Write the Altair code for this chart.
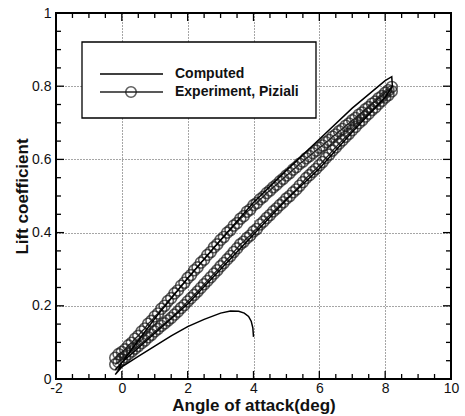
import altair as alt
import pandas as pd

# ---------------- data ----------------
comp_alpha = [4.0, 3.98, 3.93, 3.85, 3.72, 3.55, 3.3, 3.0, 2.5, 2.0, 1.5, 1.0, 0.5, 0.0, -0.2,
              -0.1, 0.0, 0.5, 1.0, 2.0, 3.0, 4.0, 5.0, 6.0, 7.0, 8.0, 8.2,
              8.22, 8.0, 7.0, 6.0, 5.0, 4.0, 3.0, 2.0, 1.0, 0.0, -0.2]
comp_cl = [0.115, 0.14, 0.158, 0.171, 0.18, 0.185, 0.186, 0.18, 0.163, 0.143, 0.118, 0.09, 0.062, 0.033, 0.012,
           0.025, 0.045, 0.105, 0.165, 0.275, 0.38, 0.482, 0.57, 0.655, 0.74, 0.815, 0.826,
           0.80, 0.77, 0.675, 0.575, 0.49, 0.395, 0.30, 0.205, 0.125, 0.045, 0.025]

exp_up_alpha = [-0.2, -0.1, 0.0, 0.1, 0.2, 0.3, 0.4, 0.5, 0.6, 0.7, 0.8, 0.9, 1.0, 1.1, 1.2, 1.3, 1.4,
                1.5, 1.6, 1.7, 1.8, 1.9, 2.0, 2.1, 2.2, 2.3, 2.4, 2.5, 2.6, 2.7, 2.8, 2.9, 3.0, 3.1,
                3.2, 3.3, 3.4, 3.5, 3.6, 3.7, 3.8, 3.9, 4.0, 4.1, 4.2, 4.3, 4.4, 4.5, 4.6, 4.7, 4.8,
                4.9, 5.0, 5.1, 5.2, 5.3, 5.4, 5.5, 5.6, 5.7, 5.8, 5.9, 6.0, 6.1, 6.2, 6.3, 6.4, 6.5,
                6.6, 6.7, 6.8, 6.9, 7.0, 7.1, 7.2, 7.3, 7.4, 7.5, 7.6, 7.7, 7.8, 7.9, 8.0, 8.1, 8.2]
exp_up_cl = [0.058, 0.068, 0.074, 0.081, 0.092, 0.099, 0.110, 0.118, 0.130, 0.138, 0.151, 0.159, 0.171,
             0.179, 0.192, 0.200, 0.213, 0.221, 0.234, 0.242, 0.255, 0.263, 0.276, 0.284, 0.297, 0.305,
             0.318, 0.326, 0.339, 0.347, 0.360, 0.368, 0.380, 0.388, 0.400, 0.407, 0.419, 0.426, 0.438,
             0.445, 0.457, 0.463, 0.475, 0.481, 0.491, 0.498, 0.508, 0.515, 0.524, 0.531, 0.540, 0.547,
             0.556, 0.563, 0.572, 0.579, 0.588, 0.594, 0.603, 0.609, 0.617, 0.624, 0.632, 0.638, 0.647,
             0.653, 0.662, 0.668, 0.677, 0.683, 0.692, 0.698, 0.707, 0.713, 0.722, 0.728, 0.737, 0.743,
             0.752, 0.758, 0.767, 0.773, 0.782, 0.789, 0.798]

exp_dn_alpha = [8.2, 8.1, 8.0, 7.9, 7.8, 7.7, 7.6, 7.5, 7.4, 7.3, 7.2, 7.1, 7.0, 6.9, 6.8, 6.7, 6.6,
                6.5, 6.4, 6.3, 6.2, 6.1, 6.0, 5.9, 5.8, 5.7, 5.6, 5.5, 5.4, 5.3, 5.2, 5.1, 5.0, 4.9,
                4.8, 4.7, 4.6, 4.5, 4.4, 4.3, 4.2, 4.1, 4.0, 3.9, 3.8, 3.7, 3.6, 3.5, 3.4, 3.3, 3.2,
                3.1, 3.0, 2.9, 2.8, 2.7, 2.6, 2.5, 2.4, 2.3, 2.2, 2.1, 2.0, 1.9, 1.8, 1.7, 1.6, 1.5,
                1.4, 1.3, 1.2, 1.1, 1.0, 0.9, 0.8, 0.7, 0.6, 0.5, 0.4, 0.3, 0.2, 0.1, 0.0, -0.1, -0.2]
exp_dn_cl = [0.786, 0.776, 0.769, 0.760, 0.752, 0.742, 0.735, 0.725, 0.717, 0.707, 0.699, 0.689, 0.680,
             0.670, 0.662, 0.652, 0.643, 0.633, 0.624, 0.613, 0.604, 0.593, 0.584, 0.574, 0.566, 0.557,
             0.549, 0.538, 0.528, 0.518, 0.510, 0.500, 0.493, 0.483, 0.475, 0.466, 0.458, 0.448, 0.440,
             0.430, 0.422, 0.410, 0.403, 0.392, 0.385, 0.375, 0.368, 0.357, 0.347, 0.336, 0.327, 0.317,
             0.308, 0.297, 0.288, 0.278, 0.268, 0.259, 0.249, 0.239, 0.230, 0.221, 0.212, 0.202, 0.194,
             0.184, 0.176, 0.167, 0.160, 0.152, 0.145, 0.137, 0.130, 0.121, 0.114, 0.105, 0.098, 0.090,
             0.083, 0.075, 0.068, 0.060, 0.053, 0.046, 0.040]

x_major = [-2, 0, 2, 4, 6, 8, 10]
x_minor = [-1.5, -1, -0.5, 0.5, 1, 1.5, 2.5, 3, 3.5, 4.5, 5, 5.5, 6.5, 7, 7.5, 8.5, 9, 9.5]
y_major = [0, 0.2, 0.4, 0.6, 0.8, 1]
y_minor = [0.05, 0.1, 0.15, 0.25, 0.3, 0.35, 0.45, 0.5, 0.55, 0.65, 0.7, 0.75, 0.85, 0.9, 0.95]

legend_labels = ["Computed", "Experiment, Piziali"]
x_title = "Angle of attack(deg)"
y_title = "Lift coefficient"

# ---------------- chart ----------------
W, H = 395, 366
FONT = "Liberation Sans"
INK = "#111111"

comp_df = pd.DataFrame({"alpha": comp_alpha, "cl": comp_cl, "i": range(len(comp_alpha))})
exp_df = pd.DataFrame({
    "alpha": exp_up_alpha + exp_dn_alpha,
    "cl": exp_up_cl + exp_dn_cl,
    "i": range(len(exp_up_alpha) + len(exp_dn_alpha)),
})

xs = alt.Scale(domain=[-2, 10], nice=False, zero=False)
ys = alt.Scale(domain=[0, 1], nice=False, zero=False)

x_axis = alt.Axis(values=x_major, grid=True, gridDash=[1, 2], gridColor="#000", gridOpacity=0.7,
                  ticks=False, domain=False, labelFont=FONT, labelFontSize=14, labelColor=INK,
                  labelPadding=2, labelExpr="datum.value + ''", labelFlush=False,
                  title=x_title, titleFont=FONT, titleFontSize=17, titleFontWeight="bold",
                  titleColor=INK, titleX=W / 2, titleY=31, titleBaseline="alphabetic")
y_axis = alt.Axis(values=y_major, grid=True, gridDash=[1, 2], gridColor="#000", gridOpacity=0.7,
                  ticks=False, domain=False, labelFont=FONT, labelFontSize=14, labelColor=INK,
                  labelPadding=5, labelExpr="datum.value + ''", labelFlush=False,
                  title=y_title, titleFont=FONT, titleFontSize=17, titleFontWeight="bold",
                  titleColor=INK, titleX=-29, titleY=H / 2, titleBaseline="alphabetic", titleAngle=270)


def X(field):
    return alt.X(field, scale=xs, axis=x_axis)


def Y(field):
    return alt.Y(field, scale=ys, axis=y_axis)


exp_line = alt.Chart(exp_df).mark_line(color="#222", strokeWidth=1.3).encode(
    x=X("alpha:Q"), y=Y("cl:Q"), order="i:Q",
)
exp_pts = alt.Chart(exp_df).mark_point(shape="circle", filled=False, size=120, color="#1a1a1a",
                                       strokeWidth=1.6).encode(
    x=X("alpha:Q"), y=Y("cl:Q"),
)
comp_line = alt.Chart(comp_df).mark_line(color="#000", strokeWidth=1.5).encode(
    x=X("alpha:Q"), y=Y("cl:Q"), order="i:Q",
)


def vticks(vals, y0, y1):
    return alt.Chart(pd.DataFrame({"alpha": vals})).mark_rule(color="#000", strokeWidth=1.3).encode(
        x=X("alpha:Q"), y=alt.value(y0), y2=alt.value(y1))


def hticks(vals, x0, x1):
    return alt.Chart(pd.DataFrame({"cl": vals})).mark_rule(color="#000", strokeWidth=1.3).encode(
        y=Y("cl:Q"), x=alt.value(x0), x2=alt.value(x1))


ticks = [
    vticks(x_major, H, H - 8), vticks(x_minor, H, H - 5),
    vticks(x_major, 0, 8), vticks(x_minor, 0, 5),
    hticks(y_major, 0, 8), hticks(y_minor, 0, 5),
    hticks(y_major, W, W - 8), hticks(y_minor, W, W - 5),
]

one = pd.DataFrame({"k": [0]})
leg_box = alt.Chart(one).mark_rect(fill="white", stroke="#000", strokeWidth=1.3).encode(
    x=alt.value(26), x2=alt.value(260), y=alt.value(29), y2=alt.value(105))
leg_l1 = alt.Chart(one).mark_rule(color="#000", strokeWidth=1.5).encode(
    x=alt.value(44), x2=alt.value(107), y=alt.value(61))
leg_l2 = alt.Chart(one).mark_rule(color="#222", strokeWidth=1.5).encode(
    x=alt.value(44), x2=alt.value(107), y=alt.value(79))
leg_pt = alt.Chart(one).mark_point(shape="circle", filled=False, size=110, color="#1a1a1a",
                                   strokeWidth=1.6).encode(x=alt.value(75), y=alt.value(79))
leg_t1 = alt.Chart(one).mark_text(text=legend_labels[0], font=FONT, fontSize=14, fontWeight="bold",
                                  align="left", baseline="middle", color=INK).encode(
    x=alt.value(119), y=alt.value(61))
leg_t2 = alt.Chart(one).mark_text(text=legend_labels[1], font=FONT, fontSize=14, fontWeight="bold",
                                  align="left", baseline="middle", color=INK).encode(
    x=alt.value(119), y=alt.value(79))

chart = alt.layer(
    exp_line, exp_pts, comp_line, *ticks,
    leg_box, leg_l1, leg_l2, leg_pt, leg_t1, leg_t2,
).properties(
    width=W, height=H,
    autosize=alt.AutoSizeParams(type="none"),
    padding={"left": 56, "top": 13, "right": 14, "bottom": 37},
    background="white",
).configure_view(stroke="#000", strokeWidth=2)

chart.save("out.html", embed_options={"renderer": "svg", "actions": False})
